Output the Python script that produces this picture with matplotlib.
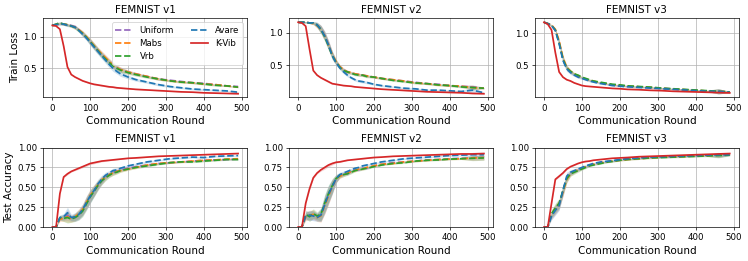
import numpy as np
import matplotlib
matplotlib.use("Agg")
import matplotlib.pyplot as plt

# communication rounds at which the curves were logged
rounds = [0, 10, 20, 30, 40, 50, 60, 70, 80, 90, 100, 110, 120, 130, 140, 150,
          160, 170, 180, 200, 220, 250, 280, 310, 340, 370, 400, 430, 460, 490]

methods = ["Uniform", "Mabs", "Vrb", "Avare", "K-Vib"]
colors = ["tab:purple", "tab:orange", "tab:green", "tab:blue", "tab:red"]
titles = ["FEMNIST v1", "FEMNIST v2", "FEMNIST v3"]

# ---- train loss ----
uniform_loss_v1 = [1.18, 1.20, 1.22, 1.20, 1.19, 1.18, 1.16, 1.11, 1.05, 0.99, 0.92, 0.85, 0.78, 0.72, 0.66, 0.60,
                   0.55, 0.51, 0.48, 0.44, 0.41, 0.37, 0.33, 0.31, 0.29, 0.27, 0.26, 0.24, 0.22, 0.21]
mabs_loss_v1 = [1.18, 1.19, 1.21, 1.20, 1.19, 1.17, 1.15, 1.11, 1.06, 1.00, 0.93, 0.86, 0.79, 0.73, 0.67, 0.61,
                0.55, 0.51, 0.48, 0.44, 0.41, 0.37, 0.33, 0.30, 0.28, 0.27, 0.25, 0.24, 0.22, 0.20]
vrb_loss_v1 = [1.18, 1.20, 1.22, 1.20, 1.19, 1.17, 1.15, 1.10, 1.05, 0.99, 0.92, 0.85, 0.78, 0.71, 0.65, 0.59,
               0.54, 0.50, 0.47, 0.43, 0.40, 0.36, 0.33, 0.30, 0.28, 0.27, 0.25, 0.23, 0.22, 0.20]
avare_loss_v1 = [1.18, 1.19, 1.20, 1.20, 1.18, 1.17, 1.15, 1.10, 1.04, 0.98, 0.91, 0.84, 0.77, 0.70, 0.63, 0.56,
                 0.50, 0.45, 0.41, 0.36, 0.32, 0.28, 0.24, 0.21, 0.19, 0.17, 0.16, 0.15, 0.14, 0.12]
kvib_loss_v1 = [1.18, 1.17, 1.12, 0.85, 0.52, 0.40, 0.36, 0.33, 0.30, 0.28, 0.26, 0.245, 0.235, 0.225, 0.215, 0.205,
                0.20, 0.19, 0.185, 0.175, 0.165, 0.155, 0.145, 0.135, 0.125, 0.12, 0.11, 0.105, 0.10, 0.095]
std_loss_v1 = [0.01, 0.01, 0.02, 0.02, 0.02, 0.02, 0.03, 0.03, 0.04, 0.04, 0.05, 0.05, 0.05, 0.05, 0.05, 0.05,
               0.05, 0.04, 0.04, 0.03, 0.025, 0.02, 0.02, 0.015, 0.015, 0.015, 0.015, 0.015, 0.01, 0.01]

uniform_loss_v2 = [1.16, 1.16, 1.16, 1.15, 1.15, 1.12, 1.06, 0.96, 0.82, 0.66, 0.55, 0.48, 0.43, 0.40, 0.38, 0.37,
                   0.36, 0.35, 0.34, 0.32, 0.30, 0.28, 0.26, 0.24, 0.22, 0.21, 0.19, 0.18, 0.17, 0.15]
mabs_loss_v2 = [1.16, 1.16, 1.16, 1.15, 1.14, 1.11, 1.05, 0.95, 0.81, 0.66, 0.56, 0.48, 0.43, 0.40, 0.39, 0.37,
                0.36, 0.35, 0.34, 0.32, 0.30, 0.28, 0.26, 0.23, 0.22, 0.20, 0.19, 0.18, 0.16, 0.15]
vrb_loss_v2 = [1.16, 1.16, 1.16, 1.15, 1.15, 1.12, 1.05, 0.94, 0.80, 0.65, 0.55, 0.47, 0.42, 0.40, 0.38, 0.36,
               0.35, 0.35, 0.33, 0.32, 0.30, 0.27, 0.25, 0.23, 0.22, 0.20, 0.19, 0.17, 0.16, 0.15]
avare_loss_v2 = [1.16, 1.16, 1.16, 1.15, 1.15, 1.12, 1.05, 0.95, 0.81, 0.65, 0.54, 0.46, 0.40, 0.35, 0.31, 0.28,
                 0.26, 0.25, 0.24, 0.21, 0.19, 0.17, 0.15, 0.14, 0.12, 0.12, 0.11, 0.10, 0.12, 0.08]
kvib_loss_v2 = [1.16, 1.15, 1.10, 0.75, 0.42, 0.35, 0.31, 0.28, 0.25, 0.22, 0.21, 0.20, 0.19, 0.185, 0.18, 0.17,
                0.165, 0.16, 0.155, 0.145, 0.135, 0.125, 0.115, 0.105, 0.095, 0.09, 0.085, 0.08, 0.07, 0.065]
std_loss_v2 = [0.01, 0.01, 0.01, 0.01, 0.02, 0.04, 0.06, 0.07, 0.07, 0.06, 0.04, 0.03, 0.03, 0.025, 0.02, 0.02,
               0.02, 0.02, 0.02, 0.015, 0.015, 0.015, 0.015, 0.015, 0.015, 0.015, 0.015, 0.015, 0.035, 0.01]

uniform_loss_v3 = [1.17, 1.15, 1.12, 1.05, 0.86, 0.60, 0.46, 0.40, 0.36, 0.33, 0.31, 0.29, 0.27, 0.255, 0.24, 0.23,
                   0.22, 0.21, 0.20, 0.19, 0.18, 0.17, 0.16, 0.15, 0.135, 0.125, 0.115, 0.105, 0.10, 0.09]
mabs_loss_v3 = [1.17, 1.15, 1.13, 1.06, 0.88, 0.62, 0.47, 0.41, 0.37, 0.34, 0.31, 0.29, 0.27, 0.26, 0.245, 0.23,
                0.22, 0.21, 0.20, 0.19, 0.18, 0.17, 0.16, 0.145, 0.135, 0.125, 0.115, 0.105, 0.10, 0.09]
vrb_loss_v3 = [1.17, 1.15, 1.12, 1.05, 0.85, 0.60, 0.46, 0.41, 0.37, 0.35, 0.32, 0.30, 0.28, 0.26, 0.25, 0.24,
               0.23, 0.22, 0.21, 0.20, 0.185, 0.175, 0.165, 0.15, 0.14, 0.13, 0.12, 0.11, 0.10, 0.09]
avare_loss_v3 = [1.17, 1.15, 1.12, 1.04, 0.84, 0.58, 0.45, 0.39, 0.35, 0.32, 0.30, 0.28, 0.26, 0.245, 0.23, 0.22,
                 0.21, 0.20, 0.19, 0.18, 0.17, 0.16, 0.15, 0.14, 0.13, 0.12, 0.11, 0.10, 0.10, 0.085]
kvib_loss_v3 = [1.17, 1.14, 1.05, 0.70, 0.40, 0.32, 0.28, 0.26, 0.23, 0.21, 0.19, 0.18, 0.175, 0.17, 0.165, 0.16,
                0.155, 0.15, 0.145, 0.14, 0.13, 0.125, 0.115, 0.11, 0.10, 0.095, 0.09, 0.085, 0.08, 0.075]
std_loss_v3 = [0.01, 0.01, 0.01, 0.02, 0.04, 0.05, 0.04, 0.03, 0.02, 0.02, 0.015, 0.015, 0.015, 0.01, 0.01, 0.01,
               0.01, 0.01, 0.01, 0.01, 0.01, 0.01, 0.01, 0.01, 0.01, 0.01, 0.01, 0.01, 0.04, 0.01]

# ---- test accuracy ----
uniform_acc_v1 = [0.0, 0.0, 0.11, 0.12, 0.15, 0.11, 0.12, 0.15, 0.21, 0.30, 0.38, 0.45, 0.52, 0.58, 0.63, 0.66,
                  0.69, 0.70, 0.72, 0.74, 0.76, 0.78, 0.80, 0.81, 0.82, 0.83, 0.84, 0.845, 0.85, 0.855]
mabs_acc_v1 = [0.0, 0.0, 0.10, 0.11, 0.13, 0.10, 0.13, 0.17, 0.22, 0.31, 0.40, 0.46, 0.53, 0.59, 0.63, 0.66,
               0.68, 0.70, 0.71, 0.73, 0.75, 0.78, 0.80, 0.81, 0.82, 0.83, 0.84, 0.845, 0.855, 0.86]
vrb_acc_v1 = [0.0, 0.0, 0.12, 0.11, 0.12, 0.10, 0.12, 0.15, 0.20, 0.29, 0.38, 0.45, 0.52, 0.58, 0.62, 0.65,
              0.68, 0.69, 0.71, 0.73, 0.75, 0.77, 0.79, 0.81, 0.82, 0.82, 0.83, 0.84, 0.85, 0.85]
avare_acc_v1 = [0.0, 0.0, 0.12, 0.13, 0.18, 0.12, 0.13, 0.16, 0.22, 0.31, 0.39, 0.46, 0.54, 0.60, 0.65, 0.68,
                0.71, 0.72, 0.74, 0.77, 0.79, 0.82, 0.84, 0.86, 0.87, 0.88, 0.875, 0.89, 0.895, 0.90]
kvib_acc_v1 = [0.0, 0.0, 0.42, 0.63, 0.67, 0.70, 0.72, 0.74, 0.76, 0.78, 0.80, 0.81, 0.82, 0.83, 0.835, 0.84,
               0.845, 0.85, 0.855, 0.865, 0.87, 0.88, 0.89, 0.895, 0.90, 0.905, 0.91, 0.915, 0.92, 0.925]
std_acc_v1 = [0.0, 0.0, 0.03, 0.04, 0.07, 0.04, 0.05, 0.06, 0.07, 0.08, 0.08, 0.07, 0.06, 0.05, 0.04, 0.03,
              0.03, 0.025, 0.02, 0.015, 0.015, 0.015, 0.01, 0.01, 0.01, 0.01, 0.01, 0.01, 0.01, 0.01]

uniform_acc_v2 = [0.0, 0.0, 0.15, 0.14, 0.15, 0.13, 0.15, 0.28, 0.40, 0.50, 0.60, 0.65, 0.67, 0.67, 0.70, 0.72,
                  0.72, 0.74, 0.74, 0.77, 0.79, 0.81, 0.82, 0.83, 0.845, 0.85, 0.86, 0.865, 0.87, 0.875]
mabs_acc_v2 = [0.0, 0.0, 0.13, 0.15, 0.16, 0.12, 0.14, 0.27, 0.39, 0.51, 0.61, 0.64, 0.66, 0.68, 0.70, 0.71,
               0.73, 0.73, 0.75, 0.77, 0.79, 0.80, 0.82, 0.83, 0.84, 0.85, 0.855, 0.86, 0.87, 0.875]
vrb_acc_v2 = [0.0, 0.0, 0.16, 0.13, 0.17, 0.14, 0.16, 0.30, 0.42, 0.52, 0.61, 0.65, 0.66, 0.67, 0.69, 0.71,
              0.72, 0.73, 0.74, 0.76, 0.78, 0.80, 0.81, 0.83, 0.84, 0.845, 0.855, 0.86, 0.865, 0.87]
avare_acc_v2 = [0.0, 0.0, 0.14, 0.15, 0.14, 0.12, 0.15, 0.28, 0.41, 0.51, 0.61, 0.66, 0.68, 0.70, 0.72, 0.74,
                0.75, 0.77, 0.78, 0.80, 0.82, 0.84, 0.86, 0.87, 0.88, 0.89, 0.90, 0.905, 0.91, 0.91]
kvib_acc_v2 = [0.0, 0.0, 0.30, 0.48, 0.62, 0.68, 0.72, 0.75, 0.78, 0.80, 0.815, 0.82, 0.83, 0.84, 0.845, 0.85,
               0.855, 0.86, 0.865, 0.875, 0.88, 0.89, 0.895, 0.90, 0.905, 0.91, 0.915, 0.92, 0.92, 0.925]
std_acc_v2 = [0.0, 0.0, 0.05, 0.06, 0.06, 0.05, 0.08, 0.11, 0.11, 0.09, 0.05, 0.03, 0.025, 0.02, 0.02, 0.015,
              0.015, 0.015, 0.015, 0.01, 0.01, 0.01, 0.01, 0.01, 0.01, 0.01, 0.01, 0.01, 0.03, 0.03]

uniform_acc_v3 = [0.0, 0.0, 0.15, 0.22, 0.28, 0.45, 0.62, 0.68, 0.70, 0.72, 0.74, 0.76, 0.78, 0.79, 0.80, 0.81,
                  0.82, 0.825, 0.83, 0.845, 0.855, 0.865, 0.875, 0.88, 0.885, 0.89, 0.895, 0.90, 0.905, 0.91]
mabs_acc_v3 = [0.0, 0.0, 0.16, 0.23, 0.29, 0.44, 0.60, 0.67, 0.70, 0.72, 0.74, 0.76, 0.775, 0.79, 0.80, 0.81,
               0.815, 0.825, 0.83, 0.84, 0.85, 0.86, 0.87, 0.88, 0.885, 0.89, 0.895, 0.90, 0.905, 0.91]
vrb_acc_v3 = [0.0, 0.0, 0.17, 0.24, 0.30, 0.46, 0.61, 0.67, 0.69, 0.71, 0.73, 0.75, 0.77, 0.78, 0.79, 0.80,
              0.81, 0.82, 0.825, 0.84, 0.85, 0.86, 0.87, 0.875, 0.88, 0.885, 0.89, 0.895, 0.90, 0.905]
avare_acc_v3 = [0.0, 0.0, 0.14, 0.21, 0.27, 0.46, 0.64, 0.69, 0.71, 0.73, 0.75, 0.77, 0.785, 0.80, 0.81, 0.82,
                0.825, 0.83, 0.835, 0.85, 0.86, 0.87, 0.88, 0.885, 0.89, 0.895, 0.90, 0.905, 0.91, 0.91]
kvib_acc_v3 = [0.0, 0.0, 0.30, 0.60, 0.64, 0.68, 0.73, 0.76, 0.78, 0.80, 0.815, 0.825, 0.83, 0.84, 0.845, 0.85,
               0.855, 0.86, 0.865, 0.87, 0.875, 0.885, 0.89, 0.895, 0.90, 0.905, 0.91, 0.915, 0.92, 0.925]
std_acc_v3 = [0.0, 0.0, 0.05, 0.06, 0.06, 0.06, 0.05, 0.03, 0.025, 0.02, 0.015, 0.015, 0.01, 0.01, 0.01, 0.01,
              0.01, 0.01, 0.01, 0.01, 0.01, 0.01, 0.01, 0.01, 0.01, 0.01, 0.01, 0.01, 0.03, 0.01]

loss_rows = [
    ([uniform_loss_v1, mabs_loss_v1, vrb_loss_v1, avare_loss_v1, kvib_loss_v1], std_loss_v1),
    ([uniform_loss_v2, mabs_loss_v2, vrb_loss_v2, avare_loss_v2, kvib_loss_v2], std_loss_v2),
    ([uniform_loss_v3, mabs_loss_v3, vrb_loss_v3, avare_loss_v3, kvib_loss_v3], std_loss_v3),
]
acc_rows = [
    ([uniform_acc_v1, mabs_acc_v1, vrb_acc_v1, avare_acc_v1, kvib_acc_v1], std_acc_v1),
    ([uniform_acc_v2, mabs_acc_v2, vrb_acc_v2, avare_acc_v2, kvib_acc_v2], std_acc_v2),
    ([uniform_acc_v3, mabs_acc_v3, vrb_acc_v3, avare_acc_v3, kvib_acc_v3], std_acc_v3),
]

fig, axes = plt.subplots(2, 3, figsize=(748 / 62, 261 / 62))
fig.subplots_adjust(left=0.0575, right=0.988, top=0.931, bottom=0.13, wspace=0.203, hspace=0.63)

x = np.array(rounds)
for row, data in enumerate([loss_rows, acc_rows]):
    for col, (series, std) in enumerate(data):
        ax = axes[row, col]
        std = np.array(std)
        for name, c, y in zip(methods, colors, series):
            y = np.array(y)
            s = std * 0.2 if name == "K-Vib" else std
            ax.fill_between(x, y - s, y + s, color=c, alpha=0.2, linewidth=0)
            ls = "-" if name == "K-Vib" else "--"
            ax.plot(x, y, ls, color=c, label=name, linewidth=2)
        ax.grid(True)
        ax.set_title(titles[col], fontsize=12)
        ax.set_xlabel("Communication Round", fontsize=12)
        if row == 1:
            ax.set_ylim(0, 1)
        if col == 0:
            ax.set_ylabel("Train Loss" if row == 0 else "Test Accuracy", fontsize=12)

axes[0, 0].legend(ncol=2, fontsize=10, loc="upper right")

plt.savefig("out.png", dpi=62)
